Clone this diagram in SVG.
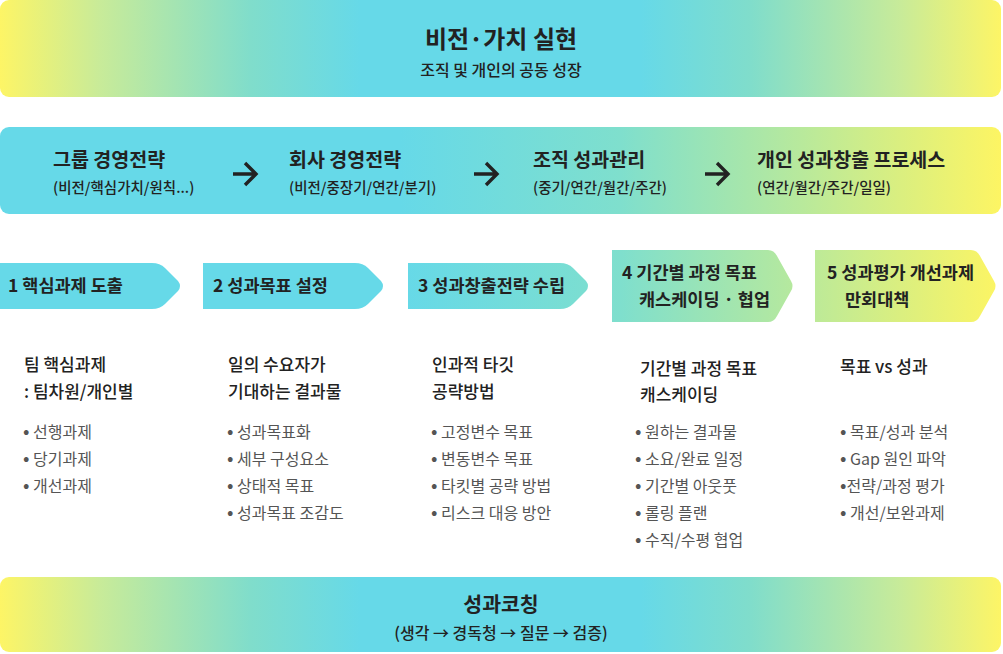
<svg xmlns="http://www.w3.org/2000/svg" width="1003" height="654" viewBox="0 0 1003 654">
<defs>
<linearGradient id="gSym" x1="0" y1="0" x2="1001" y2="0" gradientUnits="userSpaceOnUse">
<stop offset="0" stop-color="#fdf566"/>
<stop offset="0.1" stop-color="#c8eb99"/>
<stop offset="0.25" stop-color="#80ddcb"/>
<stop offset="0.36" stop-color="#66d9e8"/>
<stop offset="0.64" stop-color="#66d9e8"/>
<stop offset="0.75" stop-color="#80ddcb"/>
<stop offset="0.9" stop-color="#c8eb99"/>
<stop offset="1" stop-color="#fdf566"/>
</linearGradient>
<linearGradient id="gRow" x1="0" y1="0" x2="1001" y2="0" gradientUnits="userSpaceOnUse">
<stop offset="0" stop-color="#66d9e8"/>
<stop offset="0.4" stop-color="#66d9e8"/>
<stop offset="0.62" stop-color="#7fdfcd"/>
<stop offset="0.8" stop-color="#b8e99c"/>
<stop offset="1" stop-color="#fdf563"/>
</linearGradient>
</defs>
<style>
text{font-family:"Noto Sans CJK KR","Noto Sans",sans-serif;fill:#222}
.h1{font-size:24px;font-weight:700}
.sub1{font-size:16px;font-weight:500}
.sub{font-size:14.5px;font-weight:500}
.h2{font-size:19.5px;font-weight:700}
.h3{font-size:20.5px;font-weight:700}
.step{font-size:17.5px;font-weight:700}
.ttl{font-size:17px;font-weight:500}
.bul{font-size:16px;font-weight:400;fill:#555}
.dot{font-size:19px}
.mid{text-anchor:middle}
.arr{fill:none;stroke:#222;stroke-width:3.4;stroke-linecap:butt;stroke-linejoin:miter}
</style>

<g id="vision">
<rect x="0" y="0" width="1001" height="97" rx="9" fill="url(#gSym)"/>
<text class="h1 mid" x="501" y="48">비전·가치 실현</text>
<text class="sub1 mid" x="501" y="76">조직 및 개인의 공동 성장</text>
</g>

<g id="strategy-bar">
<rect x="0" y="127" width="1001" height="87" rx="9" fill="url(#gRow)"/>
</g>
<g id="group-strategy">
<text class="h2" x="53" y="167">그룹 경영전략</text>
<text class="sub" x="53" y="193">(비전/핵심가치/원칙...)</text>
</g>
<g id="company-strategy">
<text class="h2" x="289" y="167">회사 경영전략</text>
<text class="sub" x="289" y="193">(비전/중장기/연간/분기)</text>
</g>
<g id="org-performance">
<text class="h2" x="533" y="167">조직 성과관리</text>
<text class="sub" x="533" y="193">(중기/연간/월간/주간)</text>
</g>
<g id="personal-process">
<text class="h2" x="757" y="167">개인 성과창출 프로세스</text>
<text class="sub" x="757" y="193">(연간/월간/주간/일일)</text>
</g>

<g id="connectors">
<path class="arr" d="M233,174 H255 M245,163 L256,174 L245,185"/>
<path class="arr" d="M474,174 H496 M486,163 L497,174 L486,185"/>
<path class="arr" d="M705,174 H727 M717,163 L728,174 L717,185"/>
</g>

<g id="step1">
<path d="M0,263 H152 Q160,263 165,268 L178,281 Q182,286 178,291 L165,304 Q160,309 152,309 H0 Z" fill="url(#gRow)"/>
<text class="step" x="8" y="292">1 핵심과제 도출</text>
<text class="ttl" x="24" y="371">팀 핵심과제</text>
<text class="ttl" x="24" y="398">: 팀차원/개인별</text>
<text class="bul" x="23" y="438"><tspan class="dot">•</tspan> 선행과제</text>
<text class="bul" x="23" y="465"><tspan class="dot">•</tspan> 당기과제</text>
<text class="bul" x="23" y="492"><tspan class="dot">•</tspan> 개선과제</text>
</g>

<g id="step2">
<path d="M203,263 H355 Q363,263 368,268 L381,281 Q385,286 381,291 L368,304 Q363,309 355,309 H203 Z" fill="url(#gRow)"/>
<text class="step" x="213" y="292">2 성과목표 설정</text>
<text class="ttl" x="228" y="371">일의 수요자가</text>
<text class="ttl" x="228" y="398">기대하는 결과물</text>
<text class="bul" x="227" y="438"><tspan class="dot">•</tspan> 성과목표화</text>
<text class="bul" x="227" y="465"><tspan class="dot">•</tspan> 세부 구성요소</text>
<text class="bul" x="227" y="492"><tspan class="dot">•</tspan> 상태적 목표</text>
<text class="bul" x="227" y="519"><tspan class="dot">•</tspan> 성과목표 조감도</text>
</g>

<g id="step3">
<path d="M408,263 H560 Q568,263 573,268 L586,281 Q590,286 586,291 L573,304 Q568,309 560,309 H408 Z" fill="url(#gRow)"/>
<text class="step" x="418" y="292">3 성과창출전략 수립</text>
<text class="ttl" x="432" y="371">인과적 타깃</text>
<text class="ttl" x="432" y="398">공략방법</text>
<text class="bul" x="431" y="438"><tspan class="dot">•</tspan> 고정변수 목표</text>
<text class="bul" x="431" y="465"><tspan class="dot">•</tspan> 변동변수 목표</text>
<text class="bul" x="431" y="492"><tspan class="dot">•</tspan> 타킷별 공략 방법</text>
<text class="bul" x="431" y="519"><tspan class="dot">•</tspan> 리스크 대응 방안</text>
</g>

<g id="step4">
<path d="M612,250 H768 Q774,250 777,256 L791,281 Q794,286 791,291 L777,316 Q774,322 768,322 H612 Z" fill="url(#gRow)"/>
<text class="step" x="622" y="279">4 기간별 과정 목표</text>
<text class="step" x="639" y="306">캐스케이딩 · 협업</text>
<text class="ttl" x="640" y="375">기간별 과정 목표</text>
<text class="ttl" x="640" y="401">캐스케이딩</text>
<text class="bul" x="635" y="438"><tspan class="dot">•</tspan> 원하는 결과물</text>
<text class="bul" x="635" y="465"><tspan class="dot">•</tspan> 소요/완료 일정</text>
<text class="bul" x="635" y="492"><tspan class="dot">•</tspan> 기간별 아웃풋</text>
<text class="bul" x="635" y="519"><tspan class="dot">•</tspan> 롤링 플랜</text>
<text class="bul" x="635" y="546"><tspan class="dot">•</tspan> 수직/수평 협업</text>
</g>

<g id="step5">
<path d="M815,250 H971 Q977,250 980,256 L994,281 Q997,286 994,291 L980,316 Q977,322 971,322 H815 Z" fill="url(#gRow)"/>
<text class="step" x="827" y="279">5 성과평가 개선과제</text>
<text class="step" x="845" y="306">만회대책</text>
<text class="ttl" x="840" y="373">목표 vs 성과</text>
<text class="bul" x="840" y="438"><tspan class="dot">•</tspan> 목표/성과 분석</text>
<text class="bul" x="840" y="465"><tspan class="dot">•</tspan> Gap 원인 파악</text>
<text class="bul" x="840" y="492"><tspan class="dot">•</tspan>전략/과정 평가</text>
<text class="bul" x="840" y="519"><tspan class="dot">•</tspan> 개선/보완과제</text>
</g>

<g id="coaching">
<rect x="0" y="577" width="1001" height="75" rx="9" fill="url(#gSym)"/>
<text class="h3 mid" x="501" y="612">성과코칭</text>
<text class="sub1 mid" x="501" y="639">(생각 → 경독청 → 질문 → 검증)</text>
</g>
</svg>
